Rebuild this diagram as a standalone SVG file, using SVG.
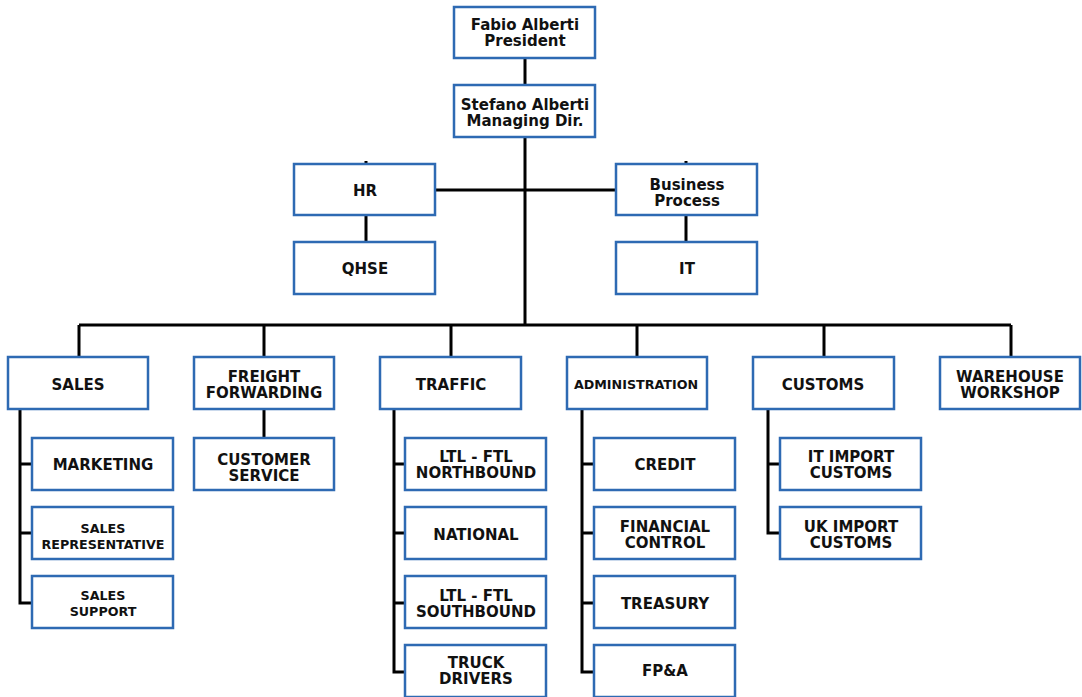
<svg xmlns="http://www.w3.org/2000/svg" width="1082" height="697" viewBox="0 0 1082 697">
<style>
.b{fill:#fff;stroke:#2e6ab3;stroke-width:2.5}
.t{font-family:"DejaVu Sans",sans-serif;font-weight:bold;font-size:15px;fill:#111;text-anchor:middle;dominant-baseline:central}
.s{font-size:12.7px}
.c{fill:none;stroke:#000;stroke-width:3}
</style>
<rect width="1082" height="697" fill="#fff"/>
<g id="connectors" class="c">
<path d="M525 58V325M366 190H684M366 161V294M686 161V294"/>
<path d="M79 325H1011M79 325V357M264 325V357M451 325V357M637 325V357M824 325V357M1011 325V357"/>
<path d="M20 409V603H32M20 464H32M20 533H32"/>
<path d="M264 409V438"/>
<path d="M394 409V672H405M394 464H405M394 533H405M394 603H405"/>
<path d="M582 409V672H594M582 464H594M582 533H594M582 603H594"/>
<path d="M768 409V533H780M768 464H780"/>
</g>
<g id="president"><rect class="b" x="454" y="7" width="141" height="51"/><text class="t" x="525" y="25">Fabio Alberti</text><text class="t" x="525" y="41">President</text></g>
<g id="md"><rect class="b" x="454" y="85" width="141" height="52"/><text class="t" x="525" y="105">Stefano Alberti</text><text class="t" x="525" y="121">Managing Dir.</text></g>
<g id="hr"><rect class="b" x="294" y="164" width="141" height="51"/><text class="t" x="365" y="191">HR</text></g>
<g id="qhse"><rect class="b" x="294" y="242" width="141" height="52"/><text class="t" x="365" y="269">QHSE</text></g>
<g id="bp"><rect class="b" x="616" y="164" width="141" height="51"/><text class="t" x="687" y="185">Business</text><text class="t" x="687" y="201">Process</text></g>
<g id="it"><rect class="b" x="616" y="242" width="141" height="52"/><text class="t" x="687" y="269">IT</text></g>
<g id="sales"><rect class="b" x="8" y="357" width="140" height="52"/><text class="t" x="78" y="385">SALES</text></g>
<g id="freight"><rect class="b" x="194" y="357" width="140" height="52"/><text class="t" x="264" y="377">FREIGHT</text><text class="t" x="264" y="393">FORWARDING</text></g>
<g id="traffic"><rect class="b" x="380" y="357" width="141" height="52"/><text class="t" x="451" y="385">TRAFFIC</text></g>
<g id="admin"><rect class="b" x="567" y="357" width="140" height="52"/><text class="t s" x="636" y="384">ADMINISTRATION</text></g>
<g id="customs"><rect class="b" x="753" y="357" width="141" height="52"/><text class="t" x="823" y="385">CUSTOMS</text></g>
<g id="warehouse"><rect class="b" x="940" y="357" width="140" height="52"/><text class="t" x="1010" y="377">WAREHOUSE</text><text class="t" x="1010" y="393">WORKSHOP</text></g>
<g id="marketing"><rect class="b" x="32" y="438" width="141" height="52"/><text class="t" x="103" y="465">MARKETING</text></g>
<g id="salesrep"><rect class="b" x="32" y="507" width="141" height="52"/><text class="t s" x="103" y="528">SALES</text><text class="t s" x="103" y="544">REPRESENTATIVE</text></g>
<g id="salessupport"><rect class="b" x="32" y="576" width="141" height="52"/><text class="t s" x="103" y="595">SALES</text><text class="t s" x="103" y="611">SUPPORT</text></g>
<g id="custservice"><rect class="b" x="194" y="438" width="140" height="52"/><text class="t" x="264" y="460">CUSTOMER</text><text class="t" x="264" y="476">SERVICE</text></g>
<g id="ltlnorth"><rect class="b" x="405" y="438" width="141" height="52"/><text class="t" x="476" y="457">LTL - FTL</text><text class="t" x="476" y="473">NORTHBOUND</text></g>
<g id="national"><rect class="b" x="405" y="507" width="141" height="52"/><text class="t" x="476" y="535">NATIONAL</text></g>
<g id="ltlsouth"><rect class="b" x="405" y="576" width="141" height="52"/><text class="t" x="476" y="596">LTL - FTL</text><text class="t" x="476" y="612">SOUTHBOUND</text></g>
<g id="truck"><rect class="b" x="405" y="645" width="141" height="52"/><text class="t" x="476" y="663">TRUCK</text><text class="t" x="476" y="679">DRIVERS</text></g>
<g id="credit"><rect class="b" x="594" y="438" width="141" height="52"/><text class="t" x="665" y="465">CREDIT</text></g>
<g id="financial"><rect class="b" x="594" y="507" width="141" height="52"/><text class="t" x="665" y="527">FINANCIAL</text><text class="t" x="665" y="543">CONTROL</text></g>
<g id="treasury"><rect class="b" x="594" y="576" width="141" height="52"/><text class="t" x="665" y="604">TREASURY</text></g>
<g id="fpa"><rect class="b" x="594" y="645" width="141" height="52"/><text class="t" x="665" y="671">FP&amp;A</text></g>
<g id="itimport"><rect class="b" x="780" y="438" width="141" height="52"/><text class="t" x="851" y="457">IT IMPORT</text><text class="t" x="851" y="473">CUSTOMS</text></g>
<g id="ukimport"><rect class="b" x="780" y="507" width="141" height="52"/><text class="t" x="851" y="527">UK IMPORT</text><text class="t" x="851" y="543">CUSTOMS</text></g>
</svg>
